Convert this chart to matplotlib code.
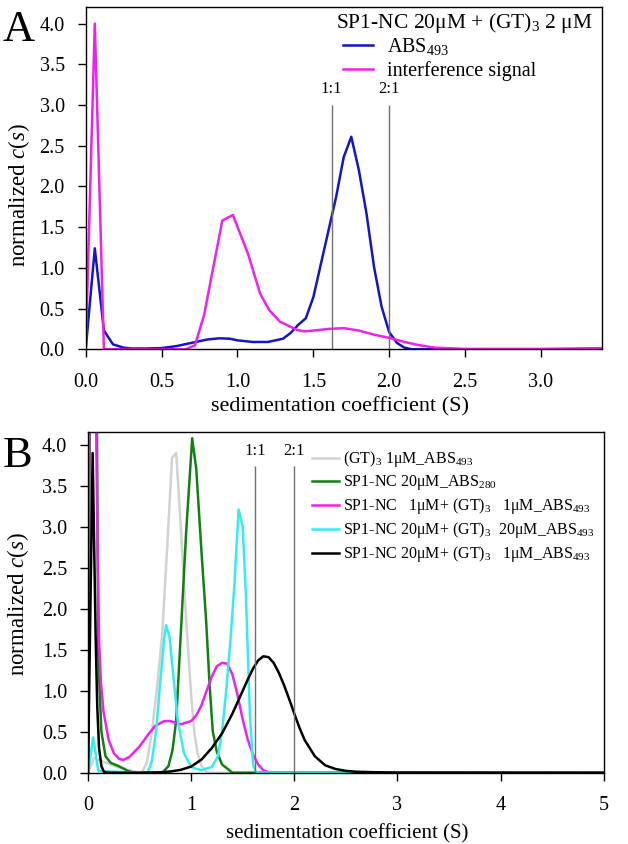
import matplotlib
matplotlib.use("Agg")
import matplotlib.pyplot as plt

plt.rcParams['font.family'] = ['Liberation Serif', 'DejaVu Serif']
plt.rcParams['mathtext.fontset'] = 'custom'
plt.rcParams['mathtext.rm'] = 'Liberation Serif'
plt.rcParams['mathtext.it'] = 'Liberation Serif:italic'
plt.rcParams['mathtext.bf'] = 'Liberation Serif:bold'

# ---------------- Panel A data ----------------
a_blue_s = [0, 0.06, 0.12, 0.18, 0.25, 0.3, 0.4, 0.5, 0.6, 0.7, 0.8, 0.88, 0.95, 1.0, 1.1,
            1.2, 1.3, 1.35, 1.4, 1.45, 1.5, 1.55, 1.6, 1.65, 1.7, 1.75, 1.8, 1.85, 1.9, 1.95,
            2.0, 2.05, 2.1, 2.15, 2.5, 3.0, 3.4]
a_blue_c = [0, 1.24, 0.23, 0.06, 0.02, 0.01, 0.01, 0.015, 0.04, 0.08, 0.12, 0.135, 0.13, 0.11, 0.09,
            0.09, 0.13, 0.2, 0.3, 0.38, 0.64, 1.05, 1.46, 1.87, 2.36, 2.61, 2.2, 1.67, 1.01, 0.52,
            0.21, 0.08, 0.02, 0.0, 0.0, 0.0, 0.0]
a_mag_s = [0, 0.06, 0.12, 0.3, 0.5, 0.66, 0.72, 0.78, 0.9, 0.97, 1.07, 1.15, 1.21, 1.28, 1.39,
           1.44, 1.5, 1.6, 1.7, 1.8, 1.9, 2.0, 2.1, 2.2, 2.3, 2.5, 3.0, 3.4]
a_mag_c = [0, 4.0, 0.0, 0.0, 0.0, 0.0, 0.05, 0.42, 1.58, 1.65, 1.17, 0.68, 0.48, 0.34, 0.24,
           0.22, 0.23, 0.25, 0.26, 0.23, 0.18, 0.14, 0.09, 0.05, 0.02, 0.005, 0.005, 0.015]
a_ratio_s = [1.62, 2.0]
a_ratio_labels = ['1:1', '2:1']
a_title = 'SP1-NC 20μM + (GT)$_3$ 2 μM'
a_labels = ['ABS$_{493}$', 'interference signal']
a_colors = ['#1414c8', '#f020f0']
a_xticks = [0, 0.5, 1.0, 1.5, 2.0, 2.5, 3.0]
a_yticks = [0, 0.5, 1, 1.5, 2, 2.5, 3, 3.5, 4]

# ---------------- Panel B data ----------------
b_gray_s = [0, 0.06, 0.28, 0.44, 0.52, 0.57, 0.62, 0.67, 0.72, 0.77, 0.815, 0.855, 0.9, 0.95,
            1.0, 1.03, 1.06, 1.1, 1.16, 5.0]
b_gray_c = [0, 0.18, 0.07, 0.02, 0.0, 0.12, 0.5, 1.05, 1.7, 2.8, 3.84, 3.9, 3.0, 1.9,
            0.95, 0.5, 0.25, 0.08, 0.0, 0.0]
b_green_s = [0, 0.05, 0.1, 0.13, 0.17, 0.22, 0.28, 0.33, 0.38, 0.45, 0.72, 0.78, 0.82, 0.855,
             0.9, 0.95, 1.01, 1.05, 1.1, 1.145, 1.18, 1.21, 1.25, 1.3, 1.4, 5.0]
b_green_c = [0, 12.0, 1.4, 0.5, 0.2, 0.12, 0.09, 0.06, 0.025, 0.0, 0.0, 0.08, 0.28, 0.64,
             1.7, 2.9, 4.08, 3.7, 2.7, 1.86, 1.05, 0.5, 0.25, 0.1, 0.0, 0.0]
b_mag_s = [0, 0.03, 0.09, 0.107, 0.125, 0.15, 0.2, 0.25, 0.3, 0.34, 0.4, 0.5, 0.58, 0.65, 0.74,
           0.8, 0.9, 1.0, 1.05, 1.1, 1.15, 1.2, 1.25, 1.3, 1.35, 1.4, 1.45, 1.5, 1.55, 1.6,
           1.65, 1.7, 1.76, 5.0]
b_mag_c = [0, 10.0, 3.0, 1.62, 1.1, 0.75, 0.4, 0.24, 0.17, 0.155, 0.19, 0.32, 0.46, 0.57, 0.63,
           0.63, 0.59, 0.63, 0.7, 0.82, 1.0, 1.17, 1.3, 1.34, 1.33, 1.2, 0.95, 0.65, 0.4, 0.22,
           0.1, 0.03, 0.0, 0.0]
b_cyan_s = [0, 0.05, 0.1, 0.5, 0.58, 0.62, 0.66, 0.7, 0.74, 0.757, 0.79, 0.83, 0.87, 0.93, 1.0,
            1.1, 1.2, 1.26, 1.3, 1.34, 1.38, 1.42, 1.46, 1.5, 1.53, 1.57, 1.6, 1.63, 5.0]
b_cyan_c = [0, 0.43, 0.02, 0.0, 0.0, 0.15, 0.5, 1.1, 1.65, 1.8, 1.66, 1.15, 0.64, 0.24, 0.07,
            0.03, 0.07, 0.2, 0.5, 1.0, 1.6, 2.3, 3.21, 3.0, 2.2, 0.7, 0.1, 0.0, 0.0]
b_black_s = [0, 0.045, 0.075, 0.09, 0.107, 0.13, 0.155, 0.2, 0.5, 0.7, 0.8, 0.9, 1.0, 1.1, 1.2,
             1.3, 1.4, 1.45, 1.5, 1.55, 1.6, 1.65, 1.7, 1.75, 1.8, 1.85, 1.9, 1.95, 2.0, 2.05,
             2.1, 2.2, 2.3, 2.4, 2.5, 2.6, 2.8, 3.0, 5.0]
b_black_c = [0, 3.9, 1.6, 0.8, 0.3, 0.08, 0.01, 0.0, 0.0, 0.005, 0.015, 0.035, 0.075, 0.16, 0.3,
             0.48, 0.72, 0.86, 1.0, 1.14, 1.27, 1.37, 1.42, 1.41, 1.34, 1.22, 1.07, 0.9, 0.72, 0.55,
             0.4, 0.2, 0.09, 0.045, 0.022, 0.012, 0.005, 0.002, 0.0]
b_ratio_s = [1.62, 2.0]
b_ratio_labels = ['1:1', '2:1']
b_labels = ['(GT)$_3$ 1μM_ABS$_{493}$',
            'SP1-NC 20μM_ABS$_{280}$',
            'SP1-NC   1μM+ (GT)$_3$   1μM_ABS$_{493}$',
            'SP1-NC 20μM+ (GT)$_3$  20μM_ABS$_{493}$',
            'SP1-NC 20μM+ (GT)$_3$   1μM_ABS$_{493}$']
b_colors = ['#d2d2d2', '#138013', '#ee22ee', '#33eeee', '#000000']
b_xticks = [0, 1, 2, 3, 4, 5]
b_yticks = [0, 0.5, 1, 1.5, 2, 2.5, 3, 3.5, 4]

W, H = 628, 844
fig = plt.figure(figsize=(W / 100, H / 100), dpi=100)

def px_axes(l, t, r, b):
    return fig.add_axes([l / W, 1 - b / H, (r - l) / W, (b - t) / H])

axA = px_axes(85.7, 7.3, 601.7, 349.3)
axB = px_axes(88.0, 431.7, 603.7, 772.7)

LW = 1.8
ref_col = '#707070'
SERIF = 'Liberation Serif'
TICK_FS = 14.5

# ---- Panel A ----
axA.plot(a_blue_s, a_blue_c, color=a_colors[0], lw=LW, label=a_labels[0])
axA.plot(a_mag_s, a_mag_c, color=a_colors[1], lw=LW, label=a_labels[1])
axA.vlines(a_ratio_s, 0, 3.0, color=ref_col, lw=1.0)
for s, t in zip(a_ratio_s, a_ratio_labels):
    axA.text(s, 3.1, t, ha='center', va='bottom', fontsize=12)
axA.set_xlim(0, 3.4)
axA.set_ylim(0, 4.2)
axA.set_xticks(a_xticks)
axA.set_xticklabels(['%.1f' % v for v in a_xticks], fontfamily=SERIF, fontsize=TICK_FS)
axA.set_yticks(a_yticks)
axA.set_yticklabels(['%.1f' % v for v in a_yticks], fontfamily=SERIF, fontsize=TICK_FS)
axA.set_xlabel('sedimentation coefficient (S)', fontsize=16)
axA.set_ylabel('normalized $c(s)$', fontsize=16.5)
axA.text(0.485, 0.953, a_title, transform=axA.transAxes, ha='left', va='center',
         fontsize=15.5)
axA.legend(loc='upper left', bbox_to_anchor=(0.499, 0.915),
           frameon=False, fontsize=14.5, handlelength=1.5, handletextpad=0.7,
           labelspacing=0.2, borderpad=0.0, borderaxespad=0.0)

# ---- Panel B ----
b_series = [(b_gray_s, b_gray_c), (b_green_s, b_green_c), (b_mag_s, b_mag_c),
            (b_cyan_s, b_cyan_c), (b_black_s, b_black_c)]
handles = []
for (s, c), col, lab in zip(b_series, b_colors, b_labels):
    ln, = axB.plot(s, c, color=col, lw=LW, label=lab)
    handles.append(ln)
axB.vlines(b_ratio_s, 0, 3.74, color=ref_col, lw=1.0)
for s, t in zip(b_ratio_s, b_ratio_labels):
    axB.text(s, 3.83, t, ha='center', va='bottom', fontsize=12)
axB.set_xlim(0, 5)
axB.set_ylim(0, 4.16)
axB.set_xticks(b_xticks)
axB.set_xticklabels([str(v) for v in b_xticks], fontfamily=SERIF, fontsize=TICK_FS)
axB.set_yticks(b_yticks)
axB.set_yticklabels(['%.1f' % v for v in b_yticks], fontfamily=SERIF, fontsize=TICK_FS)
axB.set_xlabel('sedimentation coefficient (S)', fontsize=15)
axB.set_ylabel('normalized $c(s)$', fontsize=16.5)
axB.legend(handles=handles, loc='upper left', bbox_to_anchor=(0.434, 0.948), frameon=False,
           fontsize=11.5, handlelength=1.7, handletextpad=0.25, labelspacing=0.25,
           borderpad=0.0, borderaxespad=0.0)

for ax in (axA, axB):
    for sp in ax.spines.values():
        sp.set_linewidth(1.0)
    ax.tick_params(direction='out', length=6, width=1.0)
    ax.tick_params(axis='y', pad=9)
    ax.tick_params(axis='x', pad=11)

axA.yaxis.set_label_coords(-0.105, 0.45)
axA.xaxis.set_label_coords(0.493, -0.14)
axB.yaxis.set_label_coords(-0.11, 0.496)
axB.xaxis.set_label_coords(0.502, -0.152)

fig.text(3 / W, 1 - 41 / H, 'A', fontsize=32, ha='left', va='baseline')
fig.text(3 / W, 1 - 467 / H, 'B', fontsize=32, ha='left', va='baseline')

fig.savefig('out.png', dpi=100)
